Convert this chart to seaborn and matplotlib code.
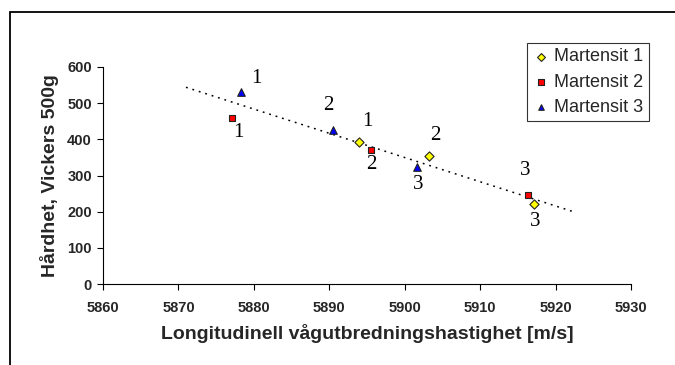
import numpy as np
import pandas as pd
import matplotlib
matplotlib.use("Agg")
import matplotlib.pyplot as plt
from matplotlib.patches import Rectangle
import seaborn as sns

# Measured samples: wave speed [m/s] vs. Vickers hardness, three martensite series
series = ["Martensit 1", "Martensit 2", "Martensit 3"]
speed_m1 = [5893.9, 5903.2, 5917.1]
hard_m1 = [394, 353, 221]
speed_m2 = [5877.1, 5895.5, 5916.4]
hard_m2 = [460, 371, 245]
speed_m3 = [5878.3, 5890.5, 5901.6]
hard_m3 = [531, 426, 323]
sample_ids = ["1", "2", "3"]

x_ticks = [5860, 5870, 5880, 5890, 5900, 5910, 5920, 5930]
y_ticks = [0, 100, 200, 300, 400, 500, 600]
trend_span = [5871, 5922.3]

df = pd.DataFrame({
    "speed": speed_m1 + speed_m2 + speed_m3,
    "hard": hard_m1 + hard_m2 + hard_m3,
    "series": [s for s in series for _ in range(3)],
    "sample": sample_ids * 3,
})

sns.set_style("white")
plt.rcParams["font.family"] = ["Liberation Sans", "DejaVu Sans"]

fig = plt.figure(figsize=(6.75, 3.65), dpi=100)
ax = fig.add_axes([103 / 675, 1 - 284 / 365, (631 - 103) / 675, (284 - 67) / 365])

# Least-squares trend line over all samples
slope, icpt = np.polyfit(df["speed"], df["hard"], 1)
tx = np.array(trend_span)
ax.plot(tx, slope * tx + icpt, color="black", lw=1.1, ls=(0, (1.2, 3.2)), zorder=1)

palette = {"Martensit 1": "#ffff00", "Martensit 2": "#ff0000", "Martensit 3": "#0000ff"}
markers = {"Martensit 1": "D", "Martensit 2": "s", "Martensit 3": "^"}
sizes = {"Martensit 1": 22, "Martensit 2": 24, "Martensit 3": 30}
for s in series:
    sub = df[df["series"] == s]
    sns.scatterplot(data=sub, x="speed", y="hard", ax=ax, color=palette[s],
                    marker=markers[s], s=sizes[s], edgecolor="#222222",
                    linewidth=0.8, label=s, zorder=3)

# Sample number labels beside each point (pixel offsets)
offsets = {
    ("Martensit 1", "1"): (9, 20), ("Martensit 1", "2"): (6, 21), ("Martensit 1", "3"): (1, -17),
    ("Martensit 2", "1"): (6, -15), ("Martensit 2", "2"): (1, -15), ("Martensit 2", "3"): (-3, 25),
    ("Martensit 3", "1"): (15, 13), ("Martensit 3", "2"): (-5, 24), ("Martensit 3", "3"): (1, -17),
}
for _, r in df.iterrows():
    dx, dy = offsets[(r["series"], r["sample"])]
    ax.annotate(r["sample"], (r["speed"], r["hard"]), xytext=(dx, dy),
                textcoords="offset pixels", ha="center", va="center",
                fontsize=15, family="Liberation Serif", color="black")

ax.set_xlim(5860, 5930)
ax.set_ylim(0, 600)
ax.set_xticks(x_ticks)
ax.set_yticks(y_ticks)
ax.set_xticklabels([str(v) for v in x_ticks], fontsize=10.5, fontweight="bold")
ax.set_yticklabels([str(v) for v in y_ticks], fontsize=10.5, fontweight="bold")
ax.tick_params(axis="x", direction="out", length=4, width=0.8, color="black",
               bottom=True, pad=8)
ax.tick_params(axis="y", direction="out", length=4, width=0.8, color="black",
               left=True, pad=4)
for side in ["top", "right"]:
    ax.spines[side].set_visible(False)
for side in ["left", "bottom"]:
    ax.spines[side].set_color("black")
    ax.spines[side].set_linewidth(0.8)

ax.set_xlabel("Longitudinell vågutbredningshastighet [m/s]", fontsize=14,
              fontweight="bold", labelpad=7)
ax.set_ylabel("Hårdhet, Vickers 500g", fontsize=14, fontweight="bold", labelpad=6)

leg = ax.legend(loc="upper left", bbox_to_anchor=(527 / 675, 1 - 43 / 365),
                bbox_transform=fig.transFigure, frameon=True, fancybox=False,
                fontsize=13, handletextpad=0.2, borderpad=0.3, labelspacing=0.45,
                handlelength=1.0, borderaxespad=0)
leg.get_frame().set_edgecolor("black")
leg.get_frame().set_linewidth(0.8)
for h in leg.legend_handles:
    h.set_sizes([16])

# Outer chart frame
fig.patches.append(Rectangle((10 / 675, -0.1), 1.2, 1 - 12 / 365 + 0.1,
                             transform=fig.transFigure, fill=False,
                             edgecolor="black", lw=1.3))

fig.savefig("out.png", dpi=100)
